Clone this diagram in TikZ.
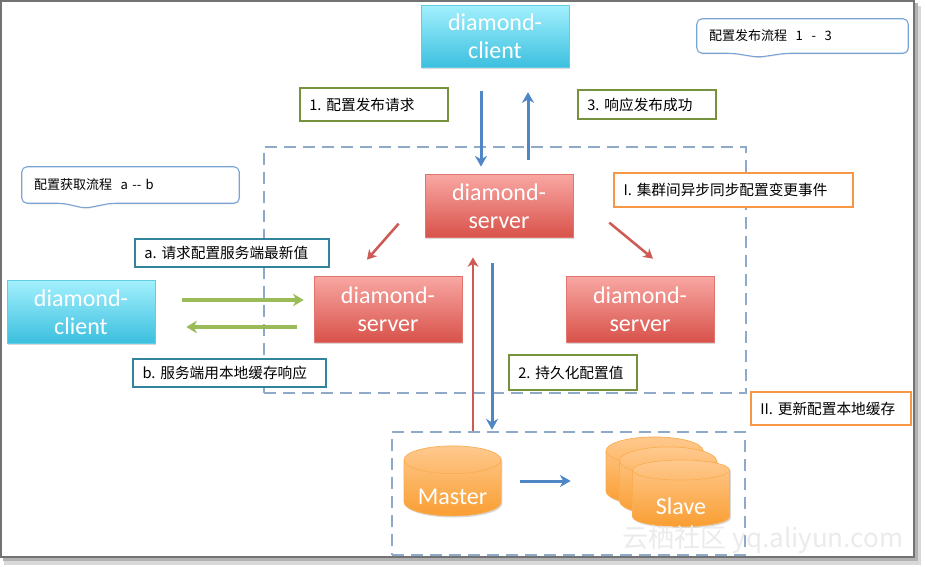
\documentclass[tikz,border=0pt]{standalone}
\usepackage{fontspec}
\setmainfont{Carlito}
\newfontfamily\cjk{Noto Sans CJK SC}
\usetikzlibrary{shapes.geometric,arrows.meta,shadows,calc,backgrounds}
\definecolor{cyanT}{HTML}{A2F0FD}
\definecolor{cyanB}{HTML}{3BBFDE}
\definecolor{redT}{HTML}{F9A7A3}
\definecolor{redB}{HTML}{D8524A}
\definecolor{orgT}{HTML}{FFC98E}
\definecolor{orgB}{HTML}{F99E32}
\definecolor{arrBlue}{HTML}{4F86C6}
\definecolor{arrRed}{HTML}{CD5A55}
\definecolor{arrGreen}{HTML}{9BBB59}
\definecolor{tagGreen}{HTML}{76923C}
\definecolor{tagTeal}{HTML}{31849B}
\definecolor{tagOrange}{HTML}{F79646}
\definecolor{zoneLine}{HTML}{8FA9C9}
\definecolor{callLine}{HTML}{7AA3D6}
\tikzset{
  box/.style={rectangle, minimum width=111pt, minimum height=47pt, text=white, align=center,
    font=\fontsize{18}{21}\selectfont,
    drop shadow={shadow xshift=1pt, shadow yshift=-1.2pt, opacity=0.3}},
  client/.style={box, top color=cyanT, bottom color=cyanB, draw=cyanB!80!white, line width=0.5pt},
  server/.style={box, top color=redT, bottom color=redB, draw=redB!80!white, line width=0.5pt},
  tag/.style={draw, line width=1.5pt, fill=white, inner xsep=7pt, minimum height=23pt,
    text width=#1, font=\cjk\fontsize{11}{13}\selectfont},
  calltext/.style={inner xsep=9pt, text width=#1, font=\cjk\fontsize{9.75}{12}\selectfont},
  callout/.style={draw=callLine, line width=0.8pt, fill=white, rounded corners=4pt,
    drop shadow={shadow xshift=0.6pt, shadow yshift=-0.8pt, opacity=0.2}},
  zone/.style={draw=zoneLine, line width=1.5pt, dash pattern=on 9pt off 5.25pt, inner sep=0pt},
  db/.style={cylinder, shape border rotate=90, aspect=0.4, top color=orgT, bottom color=orgB,
    draw=orgB!85!white, line width=0.5pt, minimum width=72.75pt, minimum height=52.5pt,
    inner sep=0pt, text=white, font=\fontsize{18}{21}\selectfont,
    drop shadow={shadow xshift=1pt, shadow yshift=-1.2pt, opacity=0.3}},
  pubArr/.style={draw=arrBlue, line width=2.25pt, -{Stealth[length=8pt,width=9pt,inset=2.5pt]}},
  syncArr/.style={draw=arrRed, line width=1.9pt, -{Stealth[length=7pt,width=8pt,inset=2pt]}},
  upArr/.style={draw=arrRed, line width=1.5pt, -{Stealth[length=7pt,width=8pt,inset=2pt]}},
  getArr/.style={draw=arrGreen, line width=2.6pt, -{Stealth[length=8pt,width=9.5pt,inset=2.5pt]}},
  wmark/.style={text=black!8, font=\cjk\fontsize{19.5}{22}\selectfont}
}
\begin{document}
\begin{tikzpicture}[x=0.75pt, y=-0.75pt]
    \useasboundingbox (0,0) rectangle (925,567);
    \begin{scope}[on background layer]
    \fill[black!15] (4,6) rectangle (921,565);
    \fill[black!30] (3,3) rectangle (918,561);
    \draw[line width=2pt, draw=black!55, fill=white] (1,1) rectangle (914,557);
    \end{scope}

    \node [zone, minimum width=361.5pt, minimum height=184.5pt] (cluster) at (505,270) {};
    \node [zone, minimum width=264.75pt, minimum height=92.25pt] (store) at (568.5,493.5) {};

    \node [client] (cTop) at (495,36.5) {diamond-\\client};
    \node [server] (sMid) at (499,206) {diamond-\\server};
    \node [server, minimum height=49.5pt] (sLeft) at (388,309) {diamond-\\server};
    \node [server, minimum height=49.5pt] (sRight) at (640,309) {diamond-\\server};
    \node [client] (cLeft) at (81,312) {diamond-\\client};

    \node [db] (master) at (452.5,488) {\raisebox{-12.2pt}[6pt][6pt]{Master}};
    \node [db, minimum height=51pt] (slave1) at (654.5,478) {\phantom{Master}};
    \node [db, minimum height=51pt] (slave2) at (668,488) {\phantom{Master}};
    \node [db, minimum height=50pt] (slave3) at (681,498.5) {\raisebox{-11.8pt}[6pt][6pt]{Slave}};

    \node [calltext=144.75pt, minimum width=162.75pt, minimum height=27pt] (getFlow) at (130.5,185) {配置获取流程\ \ a -{}- b};
    \node [calltext=140.25pt, minimum width=158.25pt, minimum height=25.5pt] (pubFlow) at (802.5,36) {配置发布流程\ \ 1\ \ -\ \ 3};
    \begin{scope}[on background layer]
    \draw [callout] (getFlow.south west) -- (getFlow.north west) -- (getFlow.north east)
        -- (getFlow.south east) -- ++(-129,0) -- ++(-25,5) -- ++(-22,-5) -- cycle;
    \draw [callout] (pubFlow.south west) -- (pubFlow.north west) -- (pubFlow.north east)
        -- (pubFlow.south east) -- ++(-123,0) -- ++(-27,4) -- ++(-25,-4) -- cycle;
    \end{scope}

    \draw [pubArr, shorten <=17.4pt, shorten >=5.8pt] (cTop.south -| 481,0) -- (sMid.north -| 481,0);
    \draw [pubArr, shorten <=11pt, shorten >=18pt] (sMid.north -| 528,0) -- (cTop.south -| 528,0);
    \draw [syncArr] ($(sMid.south west)+(-26,-14)$) -- ($(sLeft.north)+(-21,-16)$);
    \draw [syncArr] ($(sMid.south east)+(36,-15)$) -- ($(sRight.north)+(13,-17)$);
    \draw [getArr] ($(cLeft.east)+(27,-12)$) -- ($(sLeft.west)+(-10,-9)$);
    \draw [getArr] ($(sLeft.west)+(-17,18)$) -- ($(cLeft.east)+(31,15)$);
    \draw [pubArr, shorten <=19pt, shorten >=1pt] (sMid.south -| 492,0) -- (store.north -| 492,0);
    \draw [upArr, shorten >=14.8pt] (store.north -| 473,0) -- (sMid.south -| 473,0);
    \draw [pubArr, shorten <=14.25pt, shorten >=26.25pt] (master.east |- 0,481) -- (slave1.west |- 0,481);

    \node [tag=97pt, draw=tagGreen, minimum height=24.75pt] (lab1) at (374,104.5) {1.\ 配置发布请求};
    \node [tag=89.5pt, draw=tagGreen, minimum height=21.75pt] (lab3) at (647,104.5) {3.\ 响应发布成功};
    \node [tag=165pt, draw=tagOrange, minimum height=25.5pt] (labI) at (733.5,190) {I.\ 集群间异步同步配置变更事件};
    \node [tag=131.5pt, draw=tagTeal, minimum height=21pt] (labA) at (232,253) {a.\ 请求配置服务端最新值};
    \node [tag=130.5pt, draw=tagTeal, minimum height=21pt] (labB) at (229.5,373) {b.\ 服务端用本地缓存响应};
    \node [tag=82pt, draw=tagGreen, minimum height=26.25pt] (lab2) at (573,372.5) {2.\ 持久化配置值};
    \node [tag=106pt, draw=tagOrange, minimum height=24.75pt] (labII) at (831,408.5) {II.\ 更新配置本地缓存};

    \node [wmark] (wm) at (763,540) {云栖社区 yq.aliyun.com};
\end{tikzpicture}
\end{document}
